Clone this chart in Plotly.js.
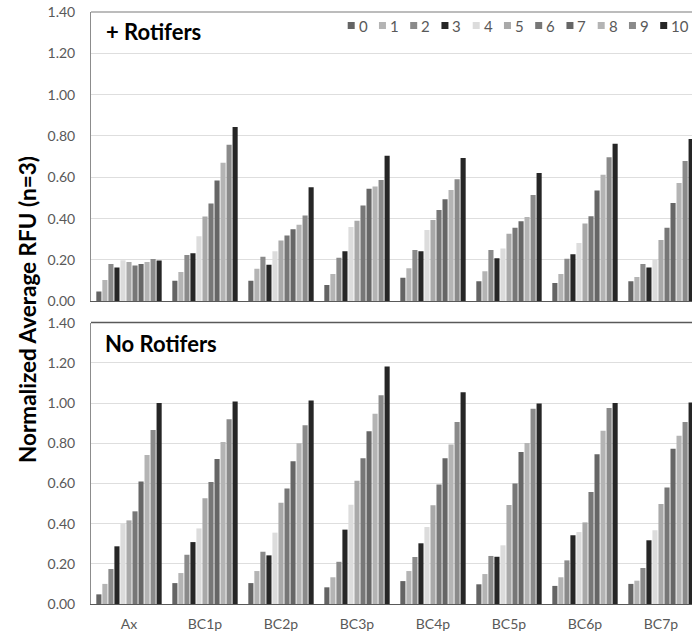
<!DOCTYPE html>
<html>
<head>
<meta charset="utf-8">
<script src="https://cdn.plot.ly/plotly-3.0.1.min.js"></script>
<style>
  html, body { margin: 0; padding: 0; background: #fff; }
  #chart { width: 692px; height: 635px; }
</style>
</head>
<body>
<div id="chart"></div>
<script>
// Sample groups on the category axis
const categories = ['Ax', 'BC1p', 'BC2p', 'BC3p', 'BC4p', 'BC5p', 'BC6p', 'BC7p'];

// Series labels (time points 0–10)
const seriesNames = ['0', '1', '2', '3', '4', '5', '6', '7', '8', '9', '10'];

// Grey shade for each series
const seriesColors = ['#646464', '#b4b4b4', '#8a8a8a', '#262626', '#dcdcdc', '#a9a9a9',
                      '#777777', '#666666', '#b4b4b4', '#8a8a8a', '#262626'];

// + Rotifers: normalized average RFU per series, one value per category
const rotT0  = [0.048, 0.100, 0.100, 0.079, 0.114, 0.097, 0.089, 0.097];
const rotT1  = [0.103, 0.142, 0.158, 0.132, 0.160, 0.145, 0.132, 0.118];
const rotT2  = [0.180, 0.224, 0.215, 0.211, 0.248, 0.248, 0.206, 0.180];
const rotT3  = [0.163, 0.232, 0.177, 0.242, 0.242, 0.208, 0.228, 0.163];
const rotT4  = [0.199, 0.315, 0.242, 0.360, 0.345, 0.255, 0.282, 0.200];
const rotT5  = [0.190, 0.410, 0.294, 0.390, 0.394, 0.327, 0.376, 0.297];
const rotT6  = [0.173, 0.473, 0.318, 0.463, 0.442, 0.356, 0.412, 0.356];
const rotT7  = [0.180, 0.584, 0.349, 0.545, 0.494, 0.387, 0.536, 0.476];
const rotT8  = [0.190, 0.670, 0.370, 0.555, 0.539, 0.408, 0.612, 0.573];
const rotT9  = [0.205, 0.757, 0.415, 0.587, 0.591, 0.515, 0.697, 0.679];
const rotT10 = [0.197, 0.844, 0.552, 0.704, 0.694, 0.621, 0.763, 0.786];

// No Rotifers: normalized average RFU per series, one value per category
const noRotT0  = [0.048, 0.104, 0.104, 0.083, 0.114, 0.098, 0.090, 0.100];
const noRotT1  = [0.100, 0.154, 0.164, 0.133, 0.164, 0.149, 0.133, 0.116];
const noRotT2  = [0.174, 0.245, 0.260, 0.210, 0.234, 0.239, 0.217, 0.179];
const noRotT3  = [0.287, 0.308, 0.242, 0.370, 0.302, 0.235, 0.342, 0.317];
const noRotT4  = [0.401, 0.376, 0.355, 0.494, 0.383, 0.292, 0.358, 0.367];
const noRotT5  = [0.416, 0.526, 0.504, 0.613, 0.491, 0.493, 0.406, 0.498];
const noRotT6  = [0.461, 0.607, 0.575, 0.725, 0.594, 0.600, 0.557, 0.579];
const noRotT7  = [0.610, 0.721, 0.710, 0.859, 0.725, 0.756, 0.745, 0.773];
const noRotT8  = [0.741, 0.806, 0.800, 0.947, 0.794, 0.801, 0.862, 0.837];
const noRotT9  = [0.866, 0.919, 0.889, 1.038, 0.905, 0.972, 0.975, 0.905];
const noRotT10 = [1.000, 1.007, 1.013, 1.181, 1.053, 0.997, 1.000, 1.003];

const rotSeries   = [rotT0, rotT1, rotT2, rotT3, rotT4, rotT5, rotT6, rotT7, rotT8, rotT9, rotT10];
const noRotSeries = [noRotT0, noRotT1, noRotT2, noRotT3, noRotT4, noRotT5, noRotT6, noRotT7, noRotT8, noRotT9, noRotT10];

// Y axis ticks
const yTickVals  = [0, 0.2, 0.4, 0.6, 0.8, 1.0, 1.2, 1.4];
const yTickTexts = ['0.00', '0.20', '0.40', '0.60', '0.80', '1.00', '1.20', '1.40'];

const FONT = 'Lato, "Open Sans", sans-serif';
const LABEL_GREY = '#595959';

const traces = [];
seriesNames.forEach((name, i) => {
  traces.push({
    type: 'bar', name: name, x: categories, y: rotSeries[i],
    xaxis: 'x', yaxis: 'y',
    marker: { color: seriesColors[i], line: { width: 0 } },
    showlegend: false, hoverinfo: 'x+y+name'
  });
});
seriesNames.forEach((name, i) => {
  traces.push({
    type: 'bar', name: name, x: categories, y: noRotSeries[i],
    xaxis: 'x2', yaxis: 'y2',
    marker: { color: seriesColors[i], line: { width: 0 } },
    showlegend: false, hoverinfo: 'x+y+name'
  });
});

// Plot area in pixels
const W = 692, H = 635;
const M = { l: 91, r: 0, t: 12, b: 31 };
const plotW = W - M.l - M.r;
const plotH = H - M.t - M.b;
const pxX = px => (px - M.l) / plotW;
const pxY = py => (H - M.b - py) / plotH;

const upperDomain = [pxY(301.3), 1];
const lowerDomain = [0, pxY(322.6)];

// Category range runs past the right edge so the last group is clipped
const xRange = [-0.5, -0.5 + plotW / 76];

const yAxisBase = {
  range: [0, 1.4], tickvals: yTickVals, ticktext: yTickTexts,
  showgrid: true, gridcolor: '#dedede', gridwidth: 1,
  zeroline: false, showline: true, linecolor: '#8c8c8c', linewidth: 1,
  ticks: '', ticklabelstandoff: 12,
  tickfont: { family: FONT, size: 14, color: LABEL_GREY },
  fixedrange: true
};
const xAxisBase = {
  type: 'category', range: xRange, showgrid: false, zeroline: false,
  showline: true, linecolor: '#595959', linewidth: 1, ticks: '',
  tickfont: { family: FONT, size: 14, color: LABEL_GREY },
  fixedrange: true
};

const shapes = [
  // upper panel top border
  { type: 'line', xref: 'paper', yref: 'paper', x0: 0, x1: 1, y0: 1, y1: 1,
    line: { color: '#a6a6a6', width: 1.5 } },
  // lower panel top border
  { type: 'line', xref: 'paper', yref: 'paper', x0: 0, x1: 1, y0: lowerDomain[1], y1: lowerDomain[1],
    line: { color: '#595959', width: 1.5 } }
];

const annotations = [
  { text: '<b>+ Rotifers</b>', xref: 'paper', yref: 'paper', x: pxX(104), y: pxY(32),
    xanchor: 'left', yanchor: 'middle', showarrow: false,
    font: { family: FONT, size: 22, color: '#000' } },
  { text: '<b>No Rotifers</b>', xref: 'paper', yref: 'paper', x: pxX(103), y: pxY(343),
    xanchor: 'left', yanchor: 'middle', showarrow: false,
    font: { family: FONT, size: 22, color: '#000' } },
  { text: '<b>Normalized Average RFU (n=3)</b>', xref: 'paper', yref: 'paper',
    x: pxX(27), y: pxY(310), xanchor: 'center', yanchor: 'middle', textangle: -90,
    showarrow: false, font: { family: FONT, size: 22.5, color: '#000' } }
];

// Legend: a swatch and a label per series, in one row across the top panel
seriesNames.forEach((name, i) => {
  const left = 347.7 + 31.25 * i;
  shapes.push({
    type: 'rect', xref: 'paper', yref: 'paper',
    x0: pxX(left), x1: pxX(left + 7), y0: pxY(29), y1: pxY(22),
    fillcolor: seriesColors[i], line: { width: 0 }
  });
  annotations.push({
    text: name, xref: 'paper', yref: 'paper', x: pxX(left + 9), y: pxY(25.5),
    xanchor: 'left', yanchor: 'middle', showarrow: false,
    font: { family: FONT, size: 15, color: LABEL_GREY }
  });
});

const layout = {
  width: W, height: H,
  margin: M,
  paper_bgcolor: '#fff', plot_bgcolor: '#fff',
  barmode: 'group', bargap: 0.128, bargroupgap: 0.15,
  showlegend: false,
  xaxis: Object.assign({}, xAxisBase, { anchor: 'y', showticklabels: false }),
  yaxis: Object.assign({}, yAxisBase, { domain: upperDomain, anchor: 'x' }),
  xaxis2: Object.assign({}, xAxisBase, { anchor: 'y2', ticklabelstandoff: 7 }),
  yaxis2: Object.assign({}, yAxisBase, { domain: lowerDomain, anchor: 'x2' }),
  shapes: shapes,
  annotations: annotations
};

Plotly.newPlot('chart', traces, layout, { displayModeBar: false, staticPlot: true });
</script>
</body>
</html>
